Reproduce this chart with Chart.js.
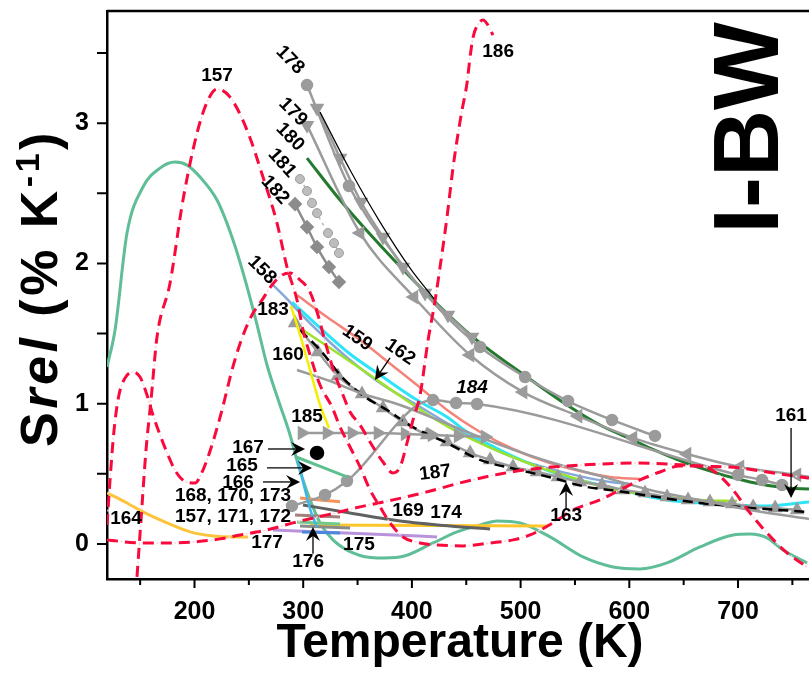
<!DOCTYPE html>
<html>
<head>
<meta charset="utf-8">
<title>Srel vs temperature</title>
<script src="https://cdn.jsdelivr.net/npm/chart.js@4.4.1/dist/chart.umd.min.js"></script>
<style>
  html, body { margin: 0; padding: 0; background: #fff; }
  #box { width: 809px; height: 673px; }
</style>
</head>
<body>
<div id="box"><canvas id="srel" width="809" height="673"></canvas></div>
<script>
// axis ticks
const tempTicks = [200, 300, 400, 500, 600, 700];
const tempMinor = [150, 250, 350, 450, 550, 650, 750];
const srelTicks = [0, 1, 2, 3];
const srelMinor = [0.5, 1.5, 2.5, 3.5];

// red dash-dot model curves
const r157T = [147.1,150.8,155.4,160,165.5,177.5,189.4,202.3,212.4,220.7,232.7,248.3,263,275.9,285.1,294.3,299.8,306.3,315.5,326.5,333.9,343.1,352.3,361.5,370.7,379.9,391.8,407.5,423.1,447,471.9,493,508.7,529.8,548.2,573,591.4,609.8,628.2,646.6,665,678.8,695.4,711,726.7,745.1,763.5];
const r157S = [-0.235,0.171,0.67,1.026,1.475,1.86,2.452,2.929,3.165,3.243,3.186,2.951,2.616,2.288,1.974,1.739,1.525,1.347,1.133,0.976,0.834,0.691,0.549,0.385,0.264,0.15,0.05,0.007,-0.007,-0.014,0.007,0.029,0.064,0.15,0.242,0.314,0.385,0.456,0.513,0.556,0.556,0.513,0.385,0.221,0.078,-0.064,-0.164];
const r186T = [119.5,122.3,126,130.5,136.1,143.4,149.9,156.3,161.8,168.3,175.6,183,192.2,200.5,207.8,216.1,225.3,234.5,243.7,252.9,262.1,271.3,280.5,287.9,297.1,306.3,313.6,321,329.3,336.6,343.1,352.3,364.3,373.4,382.6,389.1,395.5,401,407.5,414.9,421.4,425.9,432.3,437.9,442.5,446.1,450.7,453.5,456.3,460.9,465.4,470,474.6];
const r186S = [0.135,0.456,0.813,1.062,1.183,1.226,1.19,1.062,0.919,0.777,0.634,0.513,0.442,0.435,0.527,0.706,0.955,1.24,1.468,1.632,1.739,1.846,1.917,1.932,1.882,1.796,1.632,1.418,1.205,1.062,0.941,0.848,0.691,0.584,0.506,0.549,0.72,0.884,1.062,1.454,1.739,1.974,2.331,2.687,2.929,3.093,3.286,3.471,3.614,3.706,3.735,3.699,3.628];
const r187T = [119.5,149.9,177.5,198.6,223.5,241.9,266.7,290.6,321.9,352.3,382.6,413.9,444.3,481.1,511.4,542.7,573,603.4,634.7,665,701.8,726.7,757,765.3];
const r187S = [0.029,0.007,0.007,0.014,0.036,0.064,0.1,0.15,0.207,0.264,0.314,0.371,0.435,0.499,0.535,0.556,0.57,0.577,0.57,0.556,0.542,0.513,0.478,0.47];

// oscillating teal curve
const tealT = [119.5,126.9,137.9,152.6,168.3,182.1,193.1,205.1,220.7,235.4,247.4,257.6,266.7,277.7,287.9,293.4,298.9,306.3,315.5,327.4,345.8,367.9,389.1,419.4,441.5,462.7,478.3,499.4,527,557.4,585,609.8,634.7,665,695.4,711,726.7,741.4,763.5];
const tealS = [1.262,1.525,2.217,2.545,2.68,2.723,2.701,2.616,2.452,2.167,1.86,1.561,1.276,1.012,0.777,0.62,0.478,0.314,0.15,0.029,-0.064,-0.1,-0.093,0.007,0.086,0.135,0.164,0.15,0.05,-0.093,-0.164,-0.178,-0.135,-0.021,0.064,0.071,0.043,-0.043,-0.135];

// upper group
const s178T = [303.5,342.1,389.1,425.9,462.7,504.1,543.6,584.1,623.6];
const s178S = [3.272,2.552,2.01,1.668,1.404,1.19,1.019,0.884,0.77];
const s178R = [5,5,0,0,5,5,5,5,5];
const downT = [312.7,333.9,353.2,373.4,391.8,412.1,433.2,455.3];
const downS = [3.108,2.751,2.438,2.188,1.974,1.789,1.632,1.475];
const fitT = [315.5,343.1,370.7,398.3,421.3];
const fitS = [3.079,2.666,2.295,1.967,1.739];
const s179T = [303.5,352.3,401.9,453.5,502.3,552.9,603.4,653.1,701.8,754.2,765.3];
const s179S = [2.986,2.217,1.76,1.347,1.083,0.912,0.756,0.641,0.549,0.492,0.478];
const s180T = [303.5,333.9,370.6,419.4,456.2,505.9,542.7,573,603.4,619,665,711,745.1,765.3];
const s180S = [2.751,2.452,2.131,1.739,1.475,1.19,0.991,0.848,0.741,0.684,0.542,0.442,0.399,0.392];
const s181T = [297,303.5,308.1,312.7,322.8,328.3,332.9];
const s181S = [2.602,2.516,2.431,2.359,2.217,2.145,2.074];
const s182T = [292.5,303.5,312.7,323.7,332.9];
const s182S = [2.423,2.259,2.117,1.974,1.867];

// middle bundle
const s158T = [270.4,283.3,297.1,315.5,343.1,373.4,404.7,435.1,465.5,496.8,527,557.4,582.3,600.6];
const s158S = [1.86,1.761,1.646,1.504,1.311,1.133,0.991,0.848,0.713,0.606,0.535,0.478,0.442,0.428];
const s159T = [294.3,321.9,352.3,382.6,410.2,432.3,462.7,493,524.3,554.6,582.3,609.8];
const s159S = [1.775,1.618,1.454,1.269,1.098,0.955,0.798,0.677,0.584,0.52,0.478,0.463];
const s160T = [294.3,324.7,352.3,389.1,435.1,481.1,527,573,619,665,711,765.3];
const s160S = [1.24,1.162,1.076,0.991,0.848,0.706,0.584,0.485,0.385,0.314,0.242,0.178];
const s161T = [289.7,315.5,343.1,373.4,404.7,432.3,450.7,481.1,511.4,542.7,573,603.4,634.7,665,695.4,726.7,765.3];
const s161S = [1.725,1.54,1.354,1.19,1.026,0.905,0.798,0.67,0.563,0.478,0.42,0.364,0.314,0.292,0.278,0.271,0.299];
const s162T = [299.8,327.4,358.7,389.1,419.4,450.7,481.1,511.4,542.7,573,603.4,634.7,665,699.1];
const s162S = [1.525,1.383,1.219,1.055,0.898,0.763,0.656,0.563,0.485,0.413,0.364,0.335,0.314,0.306];
const s163T = [297.1,315.5,336.6,356.9,377.1,401,432.3,462.7,499.4,529.8,561.1,582.3,619,665,711,765.3];
const s163S = [1.525,1.383,1.183,1.048,0.955,0.834,0.72,0.599,0.527,0.47,0.406,0.385,0.342,0.292,0.257,0.228];
const upT = [292.5,313.6,332,354.1,373.4,391.8,413.9,432.3,453.5,471.9,493,515,534.4,554.6,574.9,594.2,614.4,634.7,654,674.2,694.5,713.9,734.1,754.3];
const upS = [1.575,1.368,1.197,1.069,0.969,0.87,0.777,0.727,0.649,0.599,0.549,0.513,0.478,0.442,0.42,0.385,0.364,0.335,0.314,0.299,0.285,0.264,0.257,0.242];
const s183T = [288.8,297.1,306.3,315.5,323.7];
const s183S = [1.696,1.49,1.24,0.991,0.827];
const s184T = [289.7,320.1,340.3,419.4,440.6,459.9,700,722.1,740.5];
const s184S = [0.271,0.349,0.449,1.026,1.005,0.998,0.492,0.456,0.42];
const s185T = [298.9,321.9,344.9,368.8,393.7,418.5,442.5,467.3];
const s185S = [0.791,0.791,0.791,0.791,0.784,0.777,0.77,0.763];

// low values near room temperature
const s164T = [119.5,137.9,152.6,174.7,195.9,217,235.4,249.2];
const s164S = [0.364,0.292,0.228,0.15,0.086,0.057,0.05,0.05];
const s165T = [293.4,340.3];
const s165S = [0.62,0.478];
const s166T = [295.2,301.7,307.2,312.7];
const s166S = [0.599,0.385,0.228,0.121];
const s167T = [312.7];
const s167S = [0.649];
const s168T = [297.1,333.9];
const s168S = [0.328,0.3];
const s169T = [299.8,343.1,389.1,435.1,471.9];
const s169S = [0.278,0.221,0.164,0.128,0.107];
const s170T = [292.5,333.9];
const s170S = [0.207,0.192];
const s171T = [294.3,333.9];
const s171S = [0.157,0.143];
const s172T = [297.1,343.1];
const s172S = [0.128,0.114];
const s173T = [298.9,333.9];
const s173S = [0.086,0.078];
const s174T = [306.3,524.3];
const s174S = [0.135,0.128];
const s175T = [272.2,423.1];
const s175S = [0.1,0.05];

// reference numbers written on the plot: text, T, Srel, angle, italic
const notes = [
  ['157', 220.7, 3.336, 0], ['186', 479.3, 3.507, 0],
  ['178', 287.9, 3.45, 45], ['179', 290.6, 3.079, 45], ['180', 287.9, 2.901, 45],
  ['181', 280.5, 2.716, 48], ['182', 274.1, 2.523, 48], ['158', 262.1, 1.953, 45],
  ['183', 272.2, 1.668, 0], ['159', 349.6, 1.468, 35], ['162', 389.1, 1.368, 35],
  ['160', 286, 1.347, 0], ['185', 303.5, 0.905, 0], ['184', 455.3, 1.112, 0, true],
  ['167', 249.2, 0.684, 0], ['165', 243.7, 0.556, 0], ['166', 240, 0.435, 0],
  ['168, 170, 173', 235.4, 0.342, 0], ['157, 171, 172', 235.4, 0.192, 0],
  ['164', 137, 0.178, 0], ['177', 266.7, 0.007, 0], ['176', 304.5, -0.128, 0],
  ['175', 351.3, -0.007, 0], ['169', 396.4, 0.235, 0], ['174', 431.4, 0.221, 0],
  ['187', 421.4, 0.506, -7], ['163', 541.9, 0.2, 0], ['161', 748.8, 0.912, 0]
];
// pointer arrows: from (T, Srel) to (T, Srel)
const arrows = [
  [267.6, 0.677, 301.7, 0.677], [266.7, 0.542, 308.1, 0.542], [263, 0.442, 297.1, 0.442],
  [309, -0.07, 309, 0.12], [379.9, 1.326, 366, 1.169], [541.8, 0.242, 541.8, 0.442],
  [748.8, 0.827, 748.8, 0.328]
];

const RED = '#f90a3c', PINK = '#fcd3dc', GRAY = '#9b9b9b';

function pts(ts, ss) { return ts.map((t, i) => ({ x: t, y: ss[i] })); }

function line(ts, ss, color, more) {
  return Object.assign({
    data: pts(ts, ss), borderColor: color, backgroundColor: color,
    pointBorderColor: color, borderWidth: 2.5, pointRadius: 0,
    tension: 0.4, cubicInterpolationMode: 'monotone', fill: false
  }, more || {});
}

// red dash with a pale dot in every gap
function dashDot(ts, ss) {
  return [
    line(ts, ss, RED, { borderDash: [11, 7], borderWidth: 3 }),
    line(ts, ss, PINK, { borderDash: [2, 16], borderDashOffset: 4.5, borderWidth: 1.5 })
  ];
}

const datasets = [
  ...dashDot(r157T, r157S),
  ...dashDot(r186T, r186S),
  ...dashDot(r187T, r187S),
  line(s167T, s167S, '#000', { showLine: false, pointRadius: 6 }),
  line(s166T, s166S, '#3db7ea'),
  line(s165T, s165S, '#5fc08f', { borderWidth: 3 }),
  line(s185T, s185S, GRAY, { pointStyle: 'triangle', pointRotation: 90, pointRadius: 6 }),
  line(s184T, s184S, GRAY, { pointRadius: 5, tension: 0 }),
  line(s183T, s183S, '#f4ee00'),
  line(s160T, s160S, GRAY),
  line(s163T, s163S, '#000', { borderDash: [10, 6] }),
  line(upT, upS, GRAY, { pointStyle: 'triangle', pointRadius: 6 }),
  line(s162T, s162S, '#9de22b'),
  line(s161T, s161S, '#2ee4f6', { borderWidth: 3 }),
  line(s159T, s159S, '#f4847a'),
  line(s158T, s158S, '#86a8d8'),
  line(fitT, fitS, '#000', { borderWidth: 1.2 }),
  line(downT, downS, GRAY, { pointStyle: 'triangle', pointRotation: 180, pointRadius: 6 }),
  line(s178T, s178S, GRAY, { pointRadius: s178R }),
  line(s179T, s179S, GRAY, {
    pointStyle: 'triangle', pointRadius: s179T.map((t, i) => i === s179T.length - 1 ? 0 : 6),
    pointRotation: s179T.map((t, i) => i === 0 ? 180 : 270)
  }),
  line(s180T, s180S, '#237a2e', { borderWidth: 3 }),
  line(s181T, s181S, '#b8b8b8', { borderWidth: 1.5, borderDash: [3, 4], pointRadius: 4.5,
    pointBackgroundColor: '#bdbdbd', pointBorderColor: '#9d9d9d', pointBorderWidth: 1 }),
  line(s182T, s182S, '#8c8c8c', { pointStyle: 'rectRot', pointRadius: 5.5 }),
  line(s168T, s168S, '#f7945a', { borderWidth: 3 }),
  line(s169T, s169S, '#616161', { borderWidth: 3 }),
  line(s170T, s170S, '#a3807a', { borderWidth: 3 }),
  line(s171T, s171S, '#71c98b', { borderWidth: 3 }),
  line(s172T, s172S, '#8a8a8a', { borderWidth: 3 }),
  line(s174T, s174S, '#ffc62a', { borderWidth: 3 }),
  line(s173T, s173S, '#4a88de', { borderWidth: 3 }),
  line(s175T, s175S, '#b892db', { borderWidth: 3 }),
  line(s164T, s164S, '#fcc43a', { borderWidth: 3 }),
  line(tealT, tealS, '#5fbe98', { borderWidth: 3 })
];

const FONT = "'Liberation Sans', Arial, Helvetica, sans-serif";
Chart.defaults.font.family = FONT;

function arrowTo(ctx, x0, y0, x1, y1) {
  const a = Math.atan2(y1 - y0, x1 - x0);
  ctx.beginPath();
  ctx.moveTo(x0, y0);
  ctx.lineTo(x1 - 8 * Math.cos(a), y1 - 8 * Math.sin(a));
  ctx.stroke();
  ctx.save();
  ctx.translate(x1, y1);
  ctx.rotate(a);
  ctx.beginPath();
  ctx.moveTo(0, 0);
  ctx.lineTo(-14, -7);
  ctx.lineTo(-9, 0);
  ctx.lineTo(-14, 7);
  ctx.closePath();
  ctx.fill();
  ctx.restore();
}

// y title pieces: text, font, baseline shift
const yTitle = [['S', 'bold 52px', 0], ['rel', 'italic bold 52px', 0], [' (% K', 'bold 52px', 0], ['-1', 'bold 34px', -18], [')', 'bold 52px', 0]];
const TRACK = 3.5;

// frame, minor ticks, axis titles, numbers and arrows
const decor = {
  id: 'decor',
  afterDraw(chart) {
    const { ctx, chartArea: a, scales: { x, y } } = chart;
    ctx.save();
    ctx.strokeStyle = '#000';
    ctx.fillStyle = '#000';
    ctx.lineWidth = 2.5;
    ctx.beginPath();
    ctx.moveTo(a.left, a.top);
    ctx.lineTo(a.right, a.top);
    ctx.stroke();

    ctx.lineWidth = 2;
    ctx.beginPath();
    tempTicks.forEach(v => { const px = x.getPixelForValue(v); ctx.moveTo(px, a.bottom); ctx.lineTo(px, a.bottom + 9); });
    tempMinor.forEach(v => { const px = x.getPixelForValue(v); ctx.moveTo(px, a.bottom); ctx.lineTo(px, a.bottom + 6); });
    srelTicks.concat(srelMinor).forEach(v => { const py = y.getPixelForValue(v); ctx.moveTo(a.left, py); ctx.lineTo(a.left - 10, py); });
    ctx.stroke();

    // x title
    ctx.textAlign = 'center';
    ctx.textBaseline = 'alphabetic';
    ctx.font = 'bold 48px ' + FONT;
    ctx.fillText('Temperature (K)', (a.left + a.right) / 2 + 2, 657);

    // y title, drawn glyph by glyph with a little tracking
    let w = 0;
    yTitle.forEach(p => {
      ctx.font = p[1] + ' ' + FONT;
      for (const ch of p[0]) w += ctx.measureText(ch).width + TRACK;
    });
    ctx.save();
    ctx.translate(57, 288);
    ctx.rotate(-Math.PI / 2);
    ctx.textAlign = 'left';
    let cx = -w / 2;
    yTitle.forEach(p => {
      ctx.font = p[1] + ' ' + FONT;
      for (const ch of p[0]) {
        ctx.fillText(ch, cx, p[2]);
        cx += ctx.measureText(ch).width + TRACK;
      }
    });
    ctx.restore();

    // panel tag
    ctx.save();
    ctx.translate(778, 128);
    ctx.rotate(-Math.PI / 2);
    ctx.textAlign = 'center';
    ctx.font = 'bold 93px ' + FONT;
    ctx.fillText('I-BW', 0, 0);
    ctx.restore();

    // reference numbers
    ctx.textBaseline = 'middle';
    notes.forEach(n => {
      ctx.save();
      ctx.translate(x.getPixelForValue(n[1]), y.getPixelForValue(n[2]));
      ctx.rotate(n[3] * Math.PI / 180);
      ctx.font = (n[4] ? 'italic ' : '') + 'bold 19px ' + FONT;
      ctx.textAlign = 'center';
      ctx.fillText(n[0], 0, 0);
      ctx.restore();
    });

    ctx.lineWidth = 1.3;
    arrows.forEach(r => arrowTo(ctx, x.getPixelForValue(r[0]), y.getPixelForValue(r[1]),
      x.getPixelForValue(r[2]), y.getPixelForValue(r[3])));
    ctx.restore();
  }
};

new Chart(document.getElementById('srel'), {
  type: 'line',
  data: { datasets },
  options: {
    responsive: false,
    devicePixelRatio: 1,
    animation: false,
    layout: { autoPadding: false, padding: { top: 11, right: 0, bottom: 0, left: 0 } },
    plugins: { legend: { display: false }, tooltip: { enabled: false } },
    scales: {
      x: {
        type: 'linear', min: 119.5, max: 765.3,
        afterBuildTicks: s => { s.ticks = tempTicks.map(v => ({ value: v })); },
        afterFit: s => { s.height = 94; s.paddingLeft = 0; s.paddingRight = 0; },
        ticks: { font: { size: 25, weight: 'bold' }, color: '#000', padding: 18, maxRotation: 0, autoSkip: false },
        grid: { display: false, drawTicks: false },
        border: { display: true, color: '#000', width: 2.5 }
      },
      y: {
        type: 'linear', min: -0.25, max: 3.8,
        afterBuildTicks: s => { s.ticks = srelTicks.map(v => ({ value: v })); },
        afterFit: s => { s.width = 107; s.paddingTop = 0; s.paddingBottom = 0; },
        ticks: { font: { size: 25, weight: 'bold' }, color: '#000', padding: 18 },
        grid: { display: false, drawTicks: false },
        border: { display: true, color: '#000', width: 2.5 }
      }
    }
  },
  plugins: [decor]
});
</script>
</body>
</html>
